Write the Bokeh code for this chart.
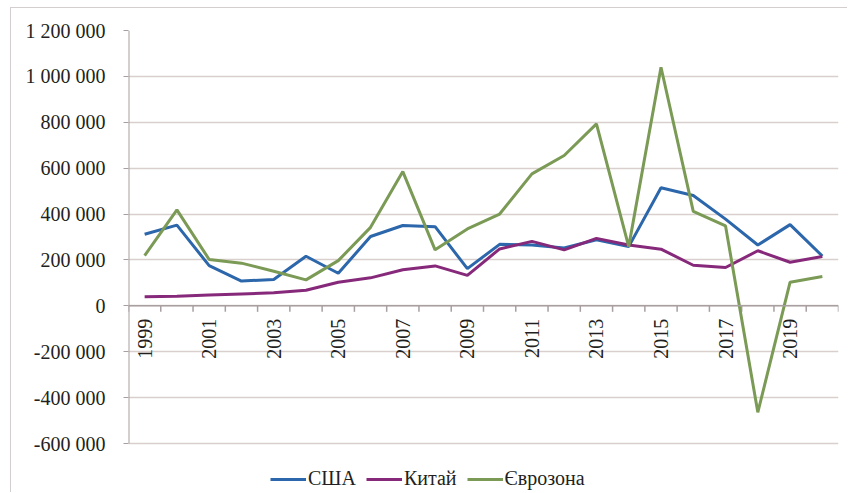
import math
from bokeh.plotting import figure
from bokeh.models import FixedTicker, Legend, LegendItem, Range1d, Span
from bokeh.embed import file_html
from bokeh.resources import INLINE
from bokeh.core.properties import value

years = list(range(1999, 2021))
usa = [312000, 352000, 175000, 108000, 115000, 216000, 142000, 302000, 350000, 345000, 162000,
       268000, 265000, 252000, 288000, 258000, 515000, 481000, 378000, 265000, 354000, 217000]
china = [40000, 42000, 47000, 52000, 57000, 68000, 103000, 122000, 157000, 174000, 133000,
         248000, 281000, 244000, 294000, 265000, 247000, 177000, 167000, 240000, 190000, 215000]
euro = [219000, 418000, 202000, 186000, 151000, 113000, 197000, 342000, 585000, 244000, 335000,
        400000, 575000, 655000, 793000, 258000, 1040000, 412000, 348000, -464000, 103000, 128000]
series_names = ["США", "Китай", "Єврозона"]
y_ticks = [-600000, -400000, -200000, 0, 200000, 400000, 600000, 800000, 1000000, 1200000]
x_label_years = years[::2]

FONT = "Liberation Serif"
TEXT = "#231f20"
AXIS = "#a8a0a0"

# the chart sits in a thin bordered box that starts 10px from the left, 7px from the top
OFF_X, OFF_Y = 11, 8
W, H = 848 - OFF_X, 493 - OFF_Y
BL, BR, BT, BB = 128 - OFF_X, 10, 30 - OFF_Y, 50
plot_h = H - BT - BB
units_per_px = (y_ticks[-1] - y_ticks[0]) / plot_h
y_start = y_ticks[0] - BB * units_per_px   # frame extends to bottom so the legend fits

p = figure(width=W, height=H, output_backend="svg", toolbar_location=None,
           x_range=Range1d(years[0] - 0.5, years[-1] + 0.5),
           y_range=Range1d(y_start, y_ticks[-1]),
           min_border_left=BL, min_border_right=BR, min_border_top=BT, min_border_bottom=0,
           styles={"margin-left": "10px", "margin-top": "7px",
                   "border-left": "1px solid #d4cfcf", "border-top": "1px solid #d4cfcf"})
p.outline_line_color = None
p.background_fill_color = "white"
p.border_fill_color = "white"

# y axis
p.yaxis.ticker = FixedTicker(ticks=y_ticks)
p.yaxis.major_label_overrides = {t: f"{t:,}".replace(",", " ") for t in y_ticks}
p.yaxis.major_label_text_font = FONT
p.yaxis.major_label_text_font_size = "20px"
p.yaxis.major_label_text_color = TEXT
p.yaxis.axis_line_color = None
p.yaxis.major_tick_line_color = AXIS
p.yaxis.major_tick_out = 5
p.yaxis.major_tick_in = 0
p.yaxis.minor_tick_line_color = None
p.yaxis.major_label_standoff = 18
p.segment(x0=[years[0] - 0.5], y0=[y_ticks[0]], x1=[years[0] - 0.5], y1=[y_ticks[-1]],
          line_color=AXIS, line_width=2)

p.xaxis.visible = False
p.xgrid.grid_line_color = None
p.ygrid.grid_line_color = "#d9d0cd"
p.ygrid.grid_line_width = 1.5

# category axis drawn at zero
p.add_layout(Span(location=0, dimension="width", line_color=AXIS, line_width=1.5))
boundaries = [y - 0.5 for y in years] + [years[-1] + 0.5]
tick_len = 6 * units_per_px
p.segment(x0=boundaries, y0=[0] * len(boundaries), x1=boundaries,
          y1=[-tick_len] * len(boundaries), line_color=AXIS, line_width=1.5)
p.text(x=x_label_years, y=[0] * len(x_label_years), text=[str(y) for y in x_label_years],
       angle=math.pi / 2, text_align="right", text_baseline="middle", y_offset=13,
       text_font=value(FONT), text_font_size="20px", text_color=TEXT)

r1 = p.line(years, usa, line_color="#2c66ab", line_width=3)
r2 = p.line(years, china, line_color="#87297a", line_width=3)
r3 = p.line(years, euro, line_color="#7a9a55", line_width=3)

legend = Legend(items=[LegendItem(label=series_names[0], renderers=[r1]),
                       LegendItem(label=series_names[1], renderers=[r2]),
                       LegendItem(label=series_names[2], renderers=[r3])],
                orientation="horizontal", location=(142, 3),
                label_text_font=FONT, label_text_font_size="20px", label_text_color=TEXT,
                glyph_width=36, label_standoff=2, spacing=10,
                border_line_alpha=0, background_fill_alpha=0, padding=0, margin=0)
p.add_layout(legend)

open("out.html", "w").write(file_html(p, INLINE))
